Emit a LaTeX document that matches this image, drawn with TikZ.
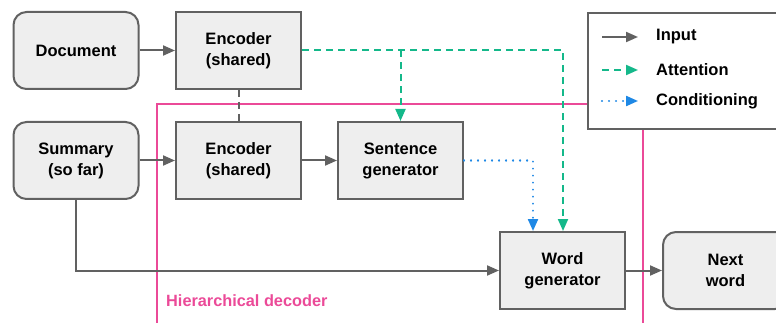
\documentclass[tikz,border=0pt]{standalone}
\usepackage{fontspec}
\setmainfont{Liberation Sans}
\usetikzlibrary{arrows.meta}
\definecolor{edge}{HTML}{616161}
\definecolor{boxfill}{HTML}{EEEEEE}
\definecolor{attn}{HTML}{14B88A}
\definecolor{cond}{HTML}{1E88E5}
\definecolor{decoder}{HTML}{EB4A98}
\tikzset{
  box/.style={draw=edge, fill=boxfill, line width=2pt, minimum width=125pt,
    minimum height=77pt, align=center, inner sep=0pt,
    font=\bfseries\fontsize{16.5}{21}\selectfont},
  rbox/.style={box, rounded corners=13pt},
  tip/.style={-{Triangle[length=12pt,width=10pt]}},
  inarrow/.style={draw=edge, line width=2pt, tip},
  attnarrow/.style={draw=attn, line width=2pt, dash pattern=on 7pt off 5pt, tip},
  condarrow/.style={draw=cond, line width=2.2pt, line cap=round,
    dash pattern=on 0.01pt off 7pt, -{Triangle[length=12pt,width=10pt,line cap=butt]}},
  legtext/.style={anchor=west, inner sep=0pt, font=\bfseries\fontsize{16.5}{20}\selectfont},
}
\begin{document}
\begin{tikzpicture}[x=1pt, y=-1pt]
\useasboundingbox (0,0) rectangle (776,323);

% hierarchical decoder region (open at the bottom)
\draw[decoder, line width=2.8pt] (157,340) -- (157,104) -- (643,104) -- (643,340);
\node[anchor=west, inner sep=0pt, text=decoder, font=\bfseries\fontsize{16.3}{19}\selectfont]
  (declabel) at (166,301) {Hierarchical decoder};

% nodes
\node[rbox] (doc)  at (76,50.5)   {Document};
\node[box]  (enc1) at (238.5,50.5) {Encoder\\(shared)};
\node[rbox] (sum)  at (76,160.5)  {Summary\\(so far)};
\node[box]  (enc2) at (238.5,160.5) {Encoder\\(shared)};
\node[box]  (sent) at (400.5,160.5) {Sentence\\generator};
\node[box]  (word) at (562.5,270.5) {Word\\generator};
\node[rbox] (next) at (725.5,270.5) {Next\\word};

\coordinate (attnbranch) at (400.5,50.5);
\coordinate (attncorner) at (563,50.5);
\coordinate (condcorner) at (533,160.5);

% connectors
\draw[inarrow] (doc) -- (enc1);
\draw[draw=edge, line width=2pt, dash pattern=on 7pt off 5pt] (enc1) -- (enc2);
\draw[inarrow] (sum) -- (enc2);
\draw[inarrow] (enc2) -- (sent);
\draw[inarrow] (sum.south) |- (word.west);
\draw[inarrow] (word) -- (next);
\draw[attnarrow] (enc1.east) -- (attncorner) -- (attncorner |- word.north);
\draw[attnarrow] (attnbranch) -- (sent.north);
\draw[condarrow] (sent.east) -- (condcorner) -- (condcorner |- word.north);

% legend
\node[draw=edge, fill=white, line width=2pt, minimum width=200pt, minimum height=116pt,
  anchor=north west, inner sep=0pt] (legend) at (587,12) {};
\coordinate (l1a) at (602,37);  \coordinate (l1b) at (638,37);
\coordinate (l2a) at (602,70);  \coordinate (l2b) at (638,70);
\coordinate (l3a) at (602,101); \coordinate (l3b) at (638,101);
\draw[inarrow] (l1a) -- (l1b);
\draw[attnarrow] (l2a) -- (l2b);
\draw[condarrow] (l3a) -- (l3b);
\node[legtext] (linput) at (656,37) {Input};
\node[legtext] (lattn) at (656,70) {Attention};
\node[legtext] (lcond) at (656,101) {Conditioning};
\end{tikzpicture}
\end{document}
